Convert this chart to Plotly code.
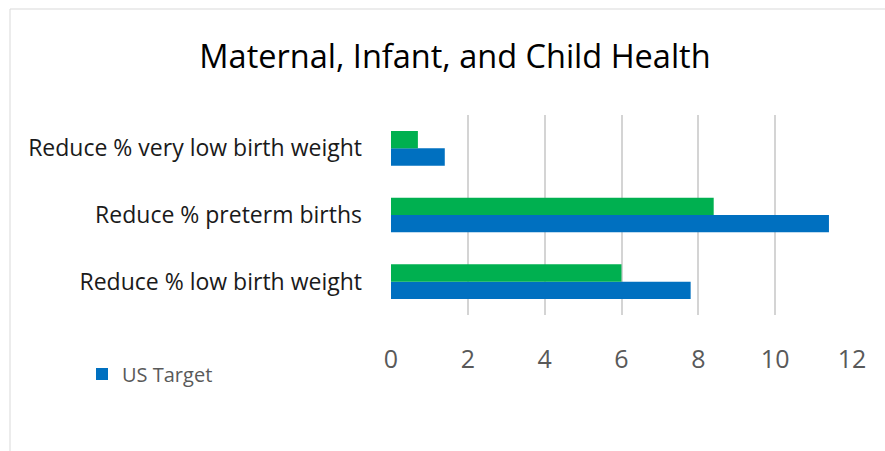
import plotly.graph_objects as go

# Indicators (bottom to top on the category axis)
indicators = [
    "Reduce % low birth weight",
    "Reduce % preterm births",
    "Reduce % very low birth weight",
]
us_target = [7.8, 11.4, 1.4]
local_value = [6.0, 8.4, 0.7]
x_ticks = [0, 2, 4, 6, 8, 10, 12]

BLUE = "#0070C0"
GREEN = "#00B050"
FONT = "Open Sans, Liberation Sans, Arial, sans-serif"

fig = go.Figure()
fig.add_trace(go.Bar(
    y=indicators, x=us_target, orientation="h", name="US Target",
    marker=dict(color=BLUE, line=dict(width=0)),
))
fig.add_trace(go.Bar(
    y=indicators, x=local_value, orientation="h", name="Current",
    marker=dict(color=GREEN, line=dict(width=0)), showlegend=False,
))

# plot area: x 391..852, y 115..315 in an 885x451 page
L, R, T, B = 391, 33, 115, 136
W, H = 885 - L - R, 451 - T - B


def px(x):
    return (x - L) / W


def py(y):
    return (451 - B - y) / H


fig.add_shape(
    type="rect", xref="paper", yref="paper",
    x0=px(10), x1=px(895), y0=py(470), y1=py(9),
    line=dict(color="#d9d9d9", width=1), fillcolor="rgba(0,0,0,0)", layer="below",
)

fig.update_layout(
    width=885, height=451,
    margin=dict(l=L, r=R, t=T, b=B),
    paper_bgcolor="white", plot_bgcolor="white",
    barmode="group", bargap=0.48, bargroupgap=0,
    title=dict(
        text="Maternal, Infant, and Child Health",
        x=455 / 885, xanchor="center", y=1 - 57 / 451, yanchor="middle",
        font=dict(family=FONT, size=32.5, color="#000000"),
    ),
    xaxis=dict(
        range=[0, 12], tickvals=x_ticks, showgrid=True, gridcolor="#d4d4d4",
        gridwidth=1.5, zeroline=False, showline=False, ticks="",
        tickfont=dict(family=FONT, size=25, color="#595959"),
        ticklabelstandoff=27,
    ),
    yaxis=dict(
        showgrid=False, zeroline=False, showline=False, ticks="",
        tickfont=dict(family=FONT, size=23, color="#1a1a1a"),
        ticklabelstandoff=28,
    ),
    legend=dict(
        x=px(82), y=py(374), xanchor="left", yanchor="middle",
        font=dict(family=FONT, size=20, color="#595959"),
        bgcolor="rgba(0,0,0,0)",
    ),
    showlegend=True,
)

fig.write_html("out.html")
